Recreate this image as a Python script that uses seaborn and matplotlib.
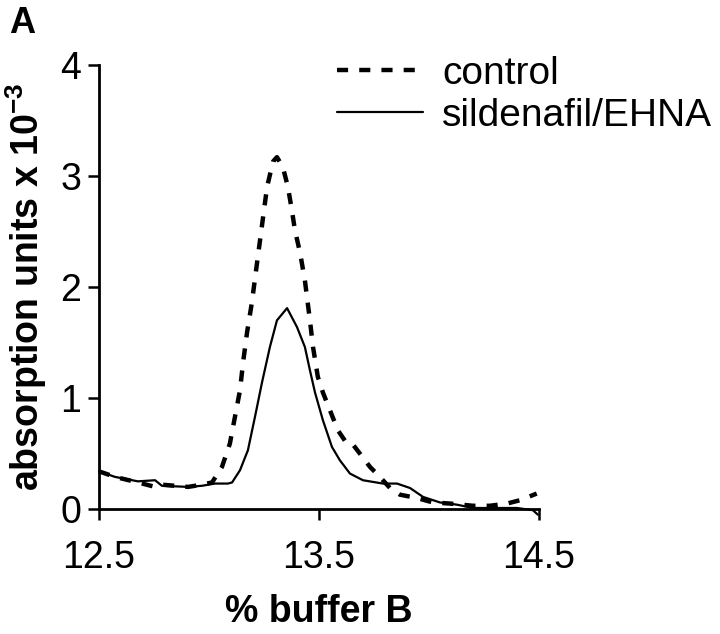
import matplotlib
matplotlib.use("Agg")
import matplotlib.pyplot as plt
import numpy as np
import pandas as pd
import seaborn as sns

# % buffer B vs absorption (x 10^-3)
control_x = [12.5, 12.573, 12.677, 12.755, 12.786, 12.905, 12.968, 13.014, 13.059, 13.095,
             13.118, 13.141, 13.155, 13.173, 13.195, 13.214, 13.232, 13.264, 13.291, 13.309,
             13.336, 13.359, 13.377, 13.391, 13.414, 13.436, 13.459, 13.473, 13.495, 13.518,
             13.55, 13.586, 13.627, 13.655, 13.686, 13.732, 13.777, 13.823, 13.868, 13.945,
             14.018, 14.095, 14.2, 14.277, 14.355, 14.414, 14.49]
control_y = [0.34, 0.29, 0.24, 0.20, 0.22, 0.20, 0.22, 0.24, 0.38, 0.59,
             0.83, 1.07, 1.32, 1.59, 1.86, 2.15, 2.42, 2.90, 3.13, 3.17,
             3.08, 2.90, 2.69, 2.51, 2.31, 2.06, 1.70, 1.46, 1.19, 1.05,
             0.89, 0.71, 0.59, 0.58, 0.50, 0.38, 0.29, 0.19, 0.13, 0.10,
             0.06, 0.05, 0.03, 0.03, 0.05, 0.08, 0.14]

treated_x = [12.5, 12.573, 12.677, 12.755, 12.786, 12.905, 12.968, 13.027, 13.086, 13.105,
             13.141, 13.177, 13.209, 13.241, 13.277, 13.309, 13.355, 13.4, 13.436, 13.459,
             13.482, 13.518, 13.559, 13.595, 13.641, 13.7, 13.791, 13.855, 13.914, 13.973,
             14.05, 14.127, 14.2, 14.277, 14.4, 14.473, 14.495]
treated_y = [0.34, 0.29, 0.25, 0.26, 0.21, 0.20, 0.21, 0.23, 0.23, 0.24,
             0.35, 0.53, 0.83, 1.14, 1.46, 1.70, 1.81, 1.64, 1.46, 1.25,
             1.05, 0.80, 0.56, 0.44, 0.32, 0.26, 0.23, 0.23, 0.19, 0.11,
             0.06, 0.04, 0.01, 0.01, 0.01, -0.01, -0.05]

df_c = pd.DataFrame({"x": control_x, "y": control_y})
df_t = pd.DataFrame({"x": treated_x, "y": treated_y})

sns.set_style("ticks", {"text.color": "black", "axes.labelcolor": "black",
                        "xtick.color": "black", "ytick.color": "black",
                        "axes.edgecolor": "black"})
plt.rcParams['font.family'] = ['Liberation Sans', 'DejaVu Sans']

fig = plt.figure(figsize=(7.2, 6.34), dpi=100)
ax = fig.add_axes([0.1375, 0.197, 0.611, 0.7005])

sns.lineplot(data=df_c, x="x", y="y", ax=ax, color="black", linewidth=3.2,
             linestyle=(0, (2.5, 2.5)), label="control", sort=False, clip_on=False)
sns.lineplot(data=df_t, x="x", y="y", ax=ax, color="black", linewidth=1.6,
             label="sildenafil/EHNA", sort=False, clip_on=False)

ax.set_xlim(12.5, 14.5)
ax.set_ylim(0, 4)
ax.set_xticks([12.5, 13.5, 14.5])
ax.set_xticklabels(["12.5", "13.5", "14.5"])
ax.set_yticks([0, 1, 2, 3, 4])
ax.tick_params(axis="both", labelsize=27, length=8, width=1.8, direction="out", color="black")
ax.tick_params(axis="x", pad=14)
ax.tick_params(axis="y", pad=5)
for side in ["left", "bottom"]:
    ax.spines[side].set_linewidth(2)
sns.despine(ax=ax)

ax.set_xlabel("% buffer B", fontsize=27, fontweight="bold", labelpad=13)
ax.set_ylabel("absorption units x 10$^{\\mathregular{-3}}$", fontsize=27, fontweight="bold", labelpad=8)

ax.legend(loc="upper left", bbox_to_anchor=(0.468, 0.912), bbox_transform=fig.transFigure,
          frameon=False, fontsize=28, handlelength=2.2, handletextpad=0.5,
          labelspacing=0.15, borderaxespad=0, borderpad=0)

fig.text(0.012, 0.99, "A", fontsize=26, fontweight="bold", va="top", ha="left")

fig.savefig("out.png", dpi=100)
